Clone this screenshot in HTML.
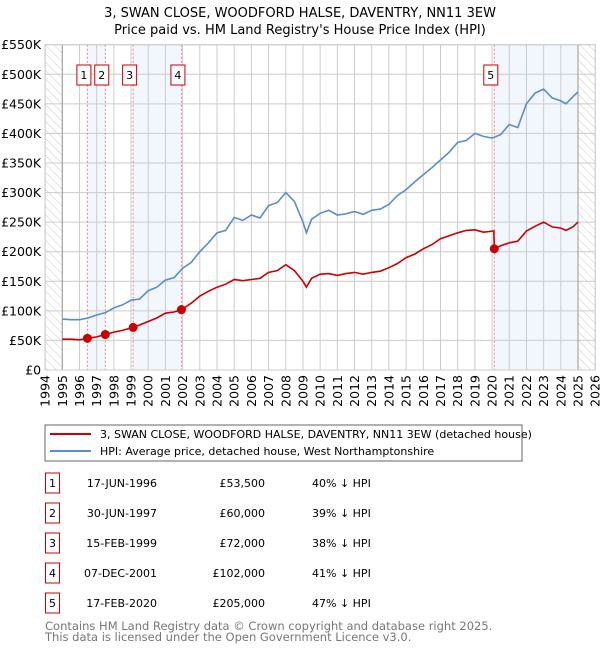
<!DOCTYPE html>
<html><head><meta charset="utf-8"><style>
body{margin:0;background:#fff;font-family:"DejaVu Sans","Liberation Sans",sans-serif;}
svg text{font-family:"DejaVu Sans","Liberation Sans",sans-serif;}
</style></head><body>
<svg id="c" width="600" height="650" xmlns="http://www.w3.org/2000/svg">
<defs><pattern id="h" width="6" height="6" patternUnits="userSpaceOnUse" patternTransform="rotate(-45)"><line x1="0" y1="0" x2="0" y2="6" stroke="#ccc" stroke-width="1"/></pattern></defs>
<text x="300" y="17" text-anchor="middle" font-size="13">3, SWAN CLOSE, WOODFORD HALSE, DAVENTRY, NN11 3EW</text>
<text x="300" y="34" text-anchor="middle" font-size="13">Price paid vs. HM Land Registry's House Price Index (HPI)</text>
<g id="plot"></g>
<rect x="45" y="425" width="477" height="36" fill="#fff" stroke="#666"/>
<line x1="50" y1="434" x2="91" y2="434" stroke="#cc0000" stroke-width="2"/>
<text x="100" y="438" font-size="11">3, SWAN CLOSE, WOODFORD HALSE, DAVENTRY, NN11 3EW (detached house)</text>
<line x1="50" y1="451" x2="91" y2="451" stroke="#5b8bd0" stroke-width="2"/>
<text x="100" y="455" font-size="11">HPI: Average price, detached house, West Northamptonshire</text>
<g id="tbl"></g>
<text x="45" y="630" font-size="11.5" fill="#777">Contains HM Land Registry data © Crown copyright and database right 2025.</text>
<text x="45" y="641" font-size="11.5" fill="#777">This data is licensed under the Open Government Licence v3.0.</text>
</svg>
<script>
const hpiYears=[1995,1995.5,1996,1996.5,1997,1997.5,1998,1998.5,1999,1999.5,2000,2000.5,2001,2001.5,2002,2002.5,2003,2003.5,2004,2004.5,2005,2005.5,2006,2006.5,2007,2007.5,2008,2008.5,2009,2009.2,2009.5,2010,2010.5,2011,2011.5,2012,2012.5,2013,2013.5,2014,2014.5,2015,2015.5,2016,2016.5,2017,2017.5,2018,2018.5,2019,2019.5,2020,2020.5,2021,2021.5,2022,2022.5,2023,2023.5,2024,2024.3,2024.7,2025];
const hpiValues=[86,85,85,88,93,97,105,110,118,120,134,140,152,156,172,182,200,215,232,236,258,253,262,257,278,283,300,285,250,232,255,265,270,262,264,268,263,270,272,280,295,305,318,330,342,355,368,385,388,400,395,392,398,415,410,450,468,475,460,455,450,462,470];
const priceYears=[1995,1995.5,1996,1996.46,1997,1997.5,1998,1998.5,1999.12,1999.5,2000,2000.5,2001,2001.5,2001.93,2002.5,2003,2003.5,2004,2004.5,2005,2005.5,2006,2006.5,2007,2007.5,2008,2008.5,2009,2009.2,2009.5,2010,2010.5,2011,2011.5,2012,2012.5,2013,2013.5,2014,2014.5,2015,2015.5,2016,2016.5,2017,2017.5,2018,2018.5,2019,2019.5,2020.1,2020.13,2020.5,2021,2021.5,2022,2022.5,2023,2023.5,2024,2024.3,2024.7,2025];
const priceValues=[52,52,51,53.5,56,60,64,67,72,76,82,88,96,98,102,113,125,133,140,145,153,151,153,155,165,168,178,168,150,140,155,162,163,160,163,165,162,165,167,173,180,190,196,205,212,222,227,232,236,237,233,235,205,210,215,218,235,243,250,242,240,236,242,250];
const saleLabels=["1","2","3","4","5"];
const saleYears=[1996.46,1997.5,1999.12,2001.93,2020.13];
const saleValues=[53.5,60,72,102,205];
const saleDates=["17-JUN-1996","30-JUN-1997","15-FEB-1999","07-DEC-2001","17-FEB-2020"];
const salePrices=["£53,500","£60,000","£72,000","£102,000","£205,000"];
const saleDiffs=["40% ↓ HPI","39% ↓ HPI","38% ↓ HPI","41% ↓ HPI","47% ↓ HPI"];
const yTicks=[0,50,100,150,200,250,300,350,400,450,500,550];
const yTickLabels=["£0","£50K","£100K","£150K","£200K","£250K","£300K","£350K","£400K","£450K","£500K","£550K"];
const xTicks=[1994,1995,1996,1997,1998,1999,2000,2001,2002,2003,2004,2005,2006,2007,2008,2009,2010,2011,2012,2013,2014,2015,2016,2017,2018,2019,2020,2021,2022,2023,2024,2025,2026];

const NS="http://www.w3.org/2000/svg";
const X0=45.1,X1=595.2,Y0=370,Y1=44.7;
const xs=y=>X0+(y-1994)/(2026-1994)*(X1-X0);
const ys=v=>Y0-(v/550)*(Y0-Y1);
const g=document.getElementById('plot');
function mk(tag,attrs,parent){const e=document.createElementNS(NS,tag);for(const k in attrs)e.setAttribute(k,attrs[k]);(parent||g).appendChild(e);return e;}
const shadePairs=[[0,1],[2,3]];
shadePairs.forEach(p=>{const r=mk('rect',{x:xs(saleYears[p[0]]),y:Y1,width:xs(saleYears[p[1]])-xs(saleYears[p[0]]),height:Y0-Y1,fill:'#f2f6fd'});

});
const r5=mk('rect',{x:xs(saleYears[4]),y:Y1,width:xs(2025)-xs(saleYears[4]),height:Y0-Y1,fill:'#f2f6fd'});


const hl=mk('rect',{x:X0,y:Y1,width:xs(1995)-X0,height:Y0-Y1,fill:'url(#h)'});


const hr=mk('rect',{x:xs(2025),y:Y1,width:X1-xs(2025),height:Y0-Y1,fill:'url(#h)'});


yTicks.forEach((v,i)=>{const l=mk('line',{x1:X0,x2:X1,y1:ys(v),y2:ys(v),stroke:'#ccc'});


const t=mk('text',{x:X0-4,y:ys(v)+4.5,'text-anchor':'end','font-size':'12.5'});t.textContent=yTickLabels[i];

});
xTicks.forEach(y=>{const l=mk('line',{x1:xs(y),x2:xs(y),y1:Y1,y2:Y0,stroke:'#ccc'});


const t=mk('text',{x:0,y:0,'font-size':'12.5','text-anchor':'end',transform:`translate(${xs(y)+4.5},${Y0+5}) rotate(-90)`});t.textContent=y;

});
[1995,2025].forEach(y=>{const l=mk('line',{x1:xs(y),x2:xs(y),y1:Y1,y2:Y0,stroke:'#999'});

});
saleYears.forEach((y,i)=>{const l=mk('line',{x1:xs(y),x2:xs(y),y1:Y1,y2:Y0,stroke:'#f28080','stroke-dasharray':'2,2'});


const bx=mk('rect',{x:xs(y)-10.5,y:65,width:14,height:20,fill:'#fff',stroke:'#cc0000'});


const t=mk('text',{x:xs(y)-3.5,y:79,'text-anchor':'middle','font-size':'11'});t.textContent=saleLabels[i];

});
const pts=(xa,va)=>xa.map((x,i)=>xs(x).toFixed(1)+','+ys(va[i]).toFixed(1)).join(' ');
const hp=mk('polyline',{points:pts(hpiYears,hpiValues),fill:'none',stroke:'#5b8bd0','stroke-width':1.6});


const pp=mk('polyline',{points:pts(priceYears,priceValues),fill:'none',stroke:'#cc0000','stroke-width':1.6});


saleYears.forEach((y,i)=>{const c=mk('circle',{cx:xs(y),cy:ys(saleValues[i]),r:4.5,fill:'#cc0000'});

});
const fr=mk('rect',{x:X0,y:Y1,width:X1-X0,height:Y0-Y1,fill:'none',stroke:'#ccc'});


const tb=document.getElementById('tbl');
const rowsY=[483,513,543,573,603];
saleLabels.forEach((s,i)=>{const y=rowsY[i];
const b=mk('rect',{x:45.5,y:y-10,width:14,height:20,fill:'#fff',stroke:'#cc0000'},tb);


const a=mk('text',{x:52.5,y:y+4,'text-anchor':'middle','font-size':'11'},tb);a.textContent=s;


const d=mk('text',{x:157,y:y+4,'text-anchor':'end','font-size':'11'},tb);d.textContent=saleDates[i];


const p=mk('text',{x:265,y:y+4,'text-anchor':'end','font-size':'11'},tb);p.textContent=salePrices[i];


const h=mk('text',{x:312,y:y+4,'font-size':'11'},tb);h.textContent=saleDiffs[i];

});
</script>
</body></html>
